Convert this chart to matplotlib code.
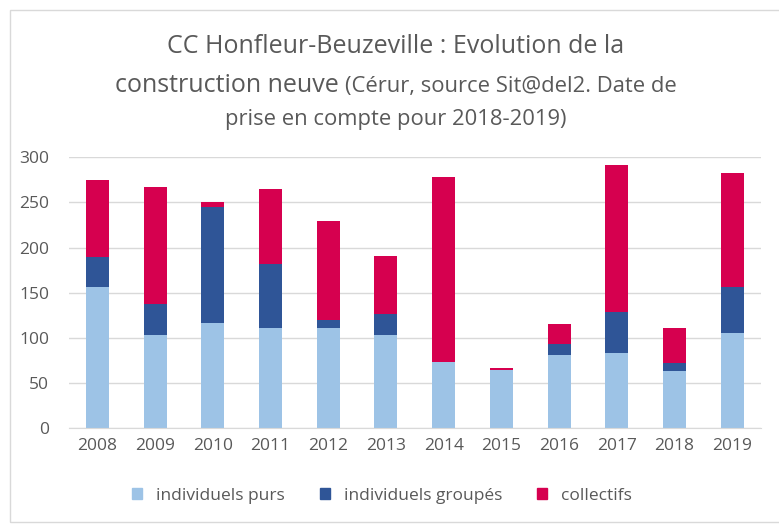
import numpy as np
import matplotlib
matplotlib.use("Agg")
import matplotlib.pyplot as plt
from matplotlib.patches import Patch, Rectangle

years = ["2008", "2009", "2010", "2011", "2012", "2013",
         "2014", "2015", "2016", "2017", "2018", "2019"]
indiv_purs = [156, 103, 117, 111, 111, 103, 73, 64, 81, 83, 63, 105]
indiv_groupes = [34, 35, 128, 71, 9, 24, 0, 1, 12, 46, 9, 51]
collectifs = [85, 129, 5, 83, 109, 64, 205, 2, 23, 163, 39, 127]

c_purs = "#9DC3E6"
c_grp = "#2F5597"
c_coll = "#D6004F"
grey = "#595959"

plt.rcParams['font.family'] = ['Open Sans', 'DejaVu Sans']

W, H = 779, 526
fig = plt.figure(figsize=(W / 100, H / 100), dpi=100)
ax = fig.add_axes([68.6 / W, 1 - 428.3 / H, (761 - 68.6) / W, (428.3 - 157.3) / H])

x = np.arange(len(years))
b1 = np.array(indiv_purs)
b2 = b1 + np.array(indiv_groupes)
ax.bar(x, indiv_purs, width=0.4, color=c_purs, zorder=2)
ax.bar(x, indiv_groupes, width=0.4, bottom=b1, color=c_grp, zorder=2)
ax.bar(x, collectifs, width=0.4, bottom=b2, color=c_coll, zorder=2)

ax.set_xlim(-0.5, len(years) - 0.5)
ax.set_ylim(0, 300)
ax.set_yticks(range(0, 301, 50))
ax.set_xticks(x)
ax.set_xticklabels(years)
ax.grid(axis='y', color='#D9D9D9', linewidth=1, zorder=0)
for s in ['top', 'right', 'left']:
    ax.spines[s].set_visible(False)
ax.spines['bottom'].set_color('#D9D9D9')
ax.tick_params(length=0, labelsize=12.5, colors=grey, pad=7)
ax.tick_params(axis='y', pad=14)

# chart border
fig.patches.append(Rectangle((10 / W, 4 / H), 1.0, 1 - 14 / H, transform=fig.transFigure,
                             fill=False, edgecolor='#D9D9D9', linewidth=1))

################# title (mixed sizes on line 2) ##################
cx = 396
r = fig.canvas.get_renderer()
fig.text(cx / W, 1 - 53 / H, "CC Honfleur-Beuzeville : Evolution de la",
         ha='center', va='baseline', fontsize=18, color=grey)
t1 = fig.text(0, 1 - 92 / H, "construction neuve ", ha='left', va='baseline',
              fontsize=18, color=grey)
t2 = fig.text(0, 1 - 92 / H, "(Cérur, source Sit@del2. Date de", ha='left',
              va='baseline', fontsize=15.8, color=grey)
w1 = t1.get_window_extent(r).width
w2 = t2.get_window_extent(r).width
x0 = cx - (w1 + w2) / 2
t1.set_x(x0 / W)
t2.set_x((x0 + w1) / W)
fig.text(cx / W, 1 - 125 / H, "prise en compte pour 2018-2019)",
         ha='center', va='baseline', fontsize=15.8, color=grey)

handles = [Patch(color=c_purs, label="individuels purs"),
           Patch(color=c_grp, label="individuels groupés"),
           Patch(color=c_coll, label="collectifs")]
fig.legend(handles=handles, loc='center', bbox_to_anchor=(382 / W, 1 - 496 / H),
           ncol=3, frameon=False, fontsize=12.5, handlelength=0.6, handleheight=0.6,
           columnspacing=2.0, handletextpad=0.8, labelcolor=grey)

fig.savefig("out.png", dpi=100)
